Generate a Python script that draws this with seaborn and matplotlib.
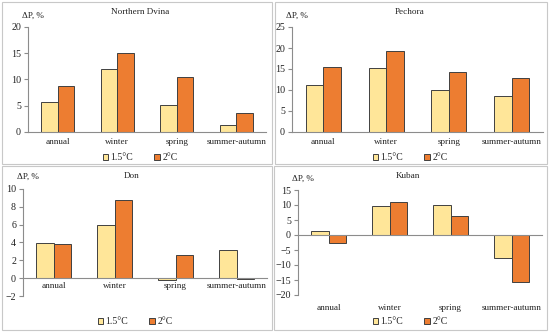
import pandas as pd
import numpy as np
import seaborn as sns
import matplotlib.pyplot as plt
from matplotlib.patches import Rectangle

# Data (precipitation change, %)
seasons = ['annual', 'winter', 'spring', 'summer-autumn']
scenarios = ['1.5°C', '2°C']

dvina_15 = [5.7, 12.0, 5.2, 1.4]
dvina_2 = [8.7, 15.0, 10.5, 3.7]

pechora_15 = [11.3, 15.3, 10.1, 8.5]
pechora_2 = [15.4, 19.3, 14.2, 12.8]

don_15 = [3.9, 6.0, -0.2, 3.2]
don_2 = [3.8, 8.8, 2.6, -0.1]

kuban_15 = [1.4, 9.6, 10.1, -7.6]
kuban_2 = [-2.6, 11.1, 6.5, -15.7]

# Style
sns.set_style('white')
plt.rcParams['font.family'] = ['Liberation Serif', 'DejaVu Serif']
colors = ['#FFE699', '#ED7D31']
fs = 6.6
W, H = 550, 333

fig = plt.figure(figsize=(W / 100, H / 100), dpi=100)

# Panel frames (pixel boxes: x0, y0, x1, y1)
frames = [(2, 2, 272, 164), (275, 2, 547, 164), (2, 166, 272, 330), (274, 166, 547, 330)]
for x0, y0, x1, y1 in frames:
    fig.patches.append(Rectangle((x0 / W, 1 - y1 / H), (x1 - x0) / W, (y1 - y0) / H,
                                 transform=fig.transFigure, fill=False,
                                 edgecolor='#c8c8c8', linewidth=0.8))

# Layout per panel: axes box (left, right, top, bottom) in pixels, y range, title/legend position, label pad
panels = [
    ('Northern Dvina', dvina_15, dvina_2, (28, 266, 27, 132), (0, 20, 5), (140, 12), (140, 158), 4),
    ('Pechora', pechora_15, pechora_2, (292, 543, 27, 132), (0, 25, 5), (410, 12), (410, 158), 4),
    ('Don', don_15, don_2, (23, 267, 189, 296), (-2, 10, 2), (132, 176), (135, 322), 3),
    ('Kuban', kuban_15, kuban_2, (298, 542, 190, 295), (-20, 15, 5), (408, 176), (410, 322), 50),
]

for title, v15, v2, box, yr, tpos, lpos, pad in panels:
    left, right, top, bottom = box
    ax = fig.add_axes([left / W, 1 - bottom / H, (right - left) / W, (bottom - top) / H])

    df = pd.DataFrame({'season': seasons * 2,
                       'dP': v15 + v2,
                       'scenario': [scenarios[0]] * 4 + [scenarios[1]] * 4})
    sns.barplot(data=df, x='season', y='dP', hue='scenario', palette=colors, saturation=1,
                width=0.56, edgecolor='#404040', linewidth=0.7, ax=ax)

    handles, labels = ax.get_legend_handles_labels()
    ax.get_legend().remove()

    # Axes look like an Excel chart
    ax.set_xlim(-0.5, 3.5)
    ax.set_ylim(yr[0], yr[1])
    ax.set_yticks(np.arange(yr[0], yr[1] + 0.1, yr[2]))
    ax.set_yticklabels([f'{int(t)}' if t >= 0 else f'\u2212{int(-t)}' for t in ax.get_yticks()])
    ax.set_xlabel('')
    ax.set_ylabel('')
    ax.spines['top'].set_visible(False)
    ax.spines['right'].set_visible(False)
    ax.spines['bottom'].set_position(('data', 0))
    for s in ['left', 'bottom']:
        ax.spines[s].set_color('#8c8c8c')
        ax.spines[s].set_linewidth(0.8)
    ax.set_xticks([-0.5, 0.5, 1.5, 2.5, 3.5], minor=True)
    ax.tick_params(axis='x', which='major', length=0, pad=pad, labelsize=fs, labelcolor='#222222')
    ax.tick_params(axis='x', which='minor', length=3, direction='out', color='#8c8c8c')
    ax.tick_params(axis='y', length=3, direction='out', color='#8c8c8c', labelsize=fs + 0.6,
                   labelcolor='#222222', pad=2, left=True)

    ax.text(-0.025, 1.11, '\u0394P, %', transform=ax.transAxes, fontsize=fs,
            color='#222222', ha='left', va='center')

    fig.text(tpos[0] / W, 1 - tpos[1] / H, title, fontsize=fs, color='#222222',
             ha='center', va='center')

    fig.legend(handles, labels, loc='center', bbox_to_anchor=(lpos[0] / W, 1 - lpos[1] / H),
               ncol=2, frameon=False, fontsize=fs + 0.4, handlelength=0.6, handleheight=0.6,
               handletextpad=0.2, columnspacing=2.2, borderaxespad=0)

plt.savefig('out.png', dpi=100)
